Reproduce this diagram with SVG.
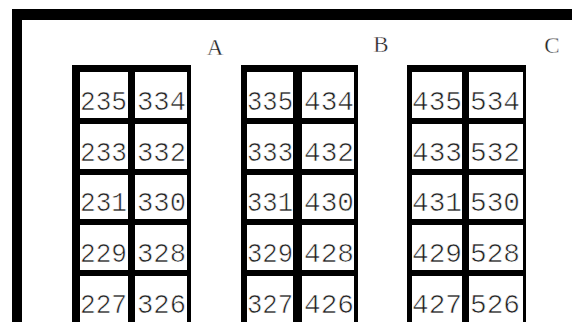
<svg xmlns="http://www.w3.org/2000/svg" width="572" height="322" viewBox="0 0 572 322">
<style>
.blk{fill:#000}
.cell{fill:#fff}
.num{font-family:"Liberation Mono","DejaVu Sans Mono",monospace;font-size:27px;fill:#222;stroke:#fff;stroke-width:0.6px}
.lbl{font-family:"Liberation Serif",serif;font-size:23px;fill:#222;text-anchor:middle;stroke:#fff;stroke-width:0.4px}
</style>
<rect width="572" height="322" fill="#fff"/>
<g id="frame">
<rect class="blk" x="12" y="9" width="560" height="11"/>
<rect class="blk" x="12" y="9" width="10" height="313"/>
</g>
<g id="labels">
<text class="lbl" x="215" y="55">A</text>
<text class="lbl" x="381" y="52">B</text>
<text class="lbl" x="552" y="53">C</text>
</g>
<g id="blockA">
<rect class="blk" x="72" y="65" width="119" height="257"/>
<rect class="cell" x="80" y="72" width="48" height="46"/><rect class="cell" x="135" y="72" width="52" height="46"/>
<rect class="cell" x="80" y="124" width="48" height="45"/><rect class="cell" x="135" y="124" width="52" height="45"/>
<rect class="cell" x="80" y="175" width="48" height="44"/><rect class="cell" x="135" y="175" width="52" height="44"/>
<rect class="cell" x="80" y="225" width="48" height="45"/><rect class="cell" x="135" y="225" width="52" height="45"/>
<rect class="cell" x="80" y="276" width="48" height="46"/><rect class="cell" x="135" y="276" width="52" height="46"/>
<text class="num" x="80" y="110" textLength="47" lengthAdjust="spacingAndGlyphs">235</text>
<text class="num" x="137" y="110" textLength="49" lengthAdjust="spacingAndGlyphs">334</text>
<text class="num" x="80" y="161" textLength="47" lengthAdjust="spacingAndGlyphs">233</text>
<text class="num" x="137" y="161" textLength="49" lengthAdjust="spacingAndGlyphs">332</text>
<text class="num" x="80" y="211" textLength="47" lengthAdjust="spacingAndGlyphs">231</text>
<text class="num" x="137" y="211" textLength="49" lengthAdjust="spacingAndGlyphs">330</text>
<text class="num" x="80" y="262" textLength="47" lengthAdjust="spacingAndGlyphs">229</text>
<text class="num" x="137" y="262" textLength="49" lengthAdjust="spacingAndGlyphs">328</text>
<text class="num" x="80" y="313" textLength="47" lengthAdjust="spacingAndGlyphs">227</text>
<text class="num" x="137" y="313" textLength="49" lengthAdjust="spacingAndGlyphs">326</text>
</g>
<g id="blockB">
<rect class="blk" x="241" y="65" width="117" height="257"/>
<rect class="cell" x="247" y="72" width="46" height="46"/><rect class="cell" x="302" y="72" width="52" height="46"/>
<rect class="cell" x="247" y="124" width="46" height="45"/><rect class="cell" x="302" y="124" width="52" height="45"/>
<rect class="cell" x="247" y="175" width="46" height="44"/><rect class="cell" x="302" y="175" width="52" height="44"/>
<rect class="cell" x="247" y="225" width="46" height="45"/><rect class="cell" x="302" y="225" width="52" height="45"/>
<rect class="cell" x="247" y="276" width="46" height="46"/><rect class="cell" x="302" y="276" width="52" height="46"/>
<text class="num" x="247" y="110" textLength="46" lengthAdjust="spacingAndGlyphs">335</text>
<text class="num" x="304" y="110" textLength="50" lengthAdjust="spacingAndGlyphs">434</text>
<text class="num" x="247" y="161" textLength="46" lengthAdjust="spacingAndGlyphs">333</text>
<text class="num" x="304" y="161" textLength="50" lengthAdjust="spacingAndGlyphs">432</text>
<text class="num" x="247" y="211" textLength="46" lengthAdjust="spacingAndGlyphs">331</text>
<text class="num" x="304" y="211" textLength="50" lengthAdjust="spacingAndGlyphs">430</text>
<text class="num" x="247" y="262" textLength="46" lengthAdjust="spacingAndGlyphs">329</text>
<text class="num" x="304" y="262" textLength="50" lengthAdjust="spacingAndGlyphs">428</text>
<text class="num" x="247" y="313" textLength="46" lengthAdjust="spacingAndGlyphs">327</text>
<text class="num" x="304" y="313" textLength="50" lengthAdjust="spacingAndGlyphs">426</text>
</g>
<g id="blockC">
<rect class="blk" x="407" y="65" width="119" height="257"/>
<rect class="cell" x="412" y="72" width="50" height="46"/><rect class="cell" x="469" y="72" width="54" height="46"/>
<rect class="cell" x="412" y="124" width="50" height="45"/><rect class="cell" x="469" y="124" width="54" height="45"/>
<rect class="cell" x="412" y="175" width="50" height="44"/><rect class="cell" x="469" y="175" width="54" height="44"/>
<rect class="cell" x="412" y="225" width="50" height="45"/><rect class="cell" x="469" y="225" width="54" height="45"/>
<rect class="cell" x="412" y="276" width="50" height="46"/><rect class="cell" x="469" y="276" width="54" height="46"/>
<text class="num" x="412" y="110" textLength="50" lengthAdjust="spacingAndGlyphs">435</text>
<text class="num" x="470" y="110" textLength="50" lengthAdjust="spacingAndGlyphs">534</text>
<text class="num" x="412" y="161" textLength="50" lengthAdjust="spacingAndGlyphs">433</text>
<text class="num" x="470" y="161" textLength="50" lengthAdjust="spacingAndGlyphs">532</text>
<text class="num" x="412" y="211" textLength="50" lengthAdjust="spacingAndGlyphs">431</text>
<text class="num" x="470" y="211" textLength="50" lengthAdjust="spacingAndGlyphs">530</text>
<text class="num" x="412" y="262" textLength="50" lengthAdjust="spacingAndGlyphs">429</text>
<text class="num" x="470" y="262" textLength="50" lengthAdjust="spacingAndGlyphs">528</text>
<text class="num" x="412" y="313" textLength="50" lengthAdjust="spacingAndGlyphs">427</text>
<text class="num" x="470" y="313" textLength="50" lengthAdjust="spacingAndGlyphs">526</text>
</g>
</svg>
